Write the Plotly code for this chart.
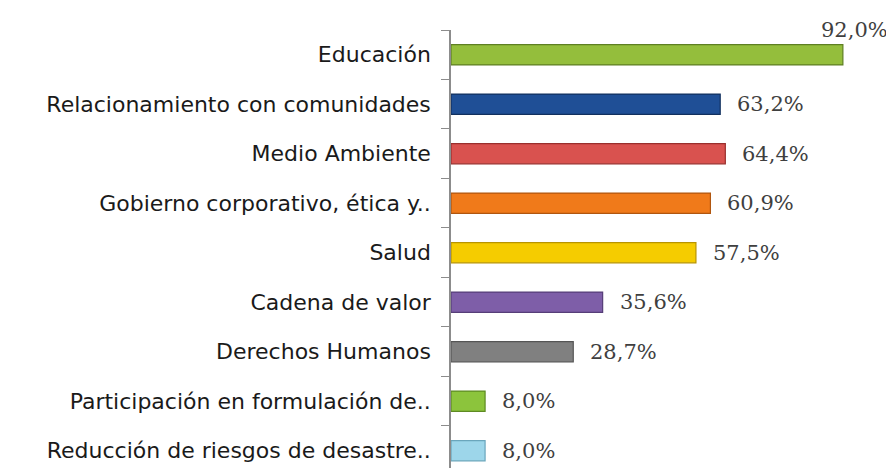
import plotly.graph_objects as go

categories = [
    "Educación",
    "Relacionamiento con comunidades",
    "Medio Ambiente",
    "Gobierno corporativo, ética y..",
    "Salud",
    "Cadena de valor",
    "Derechos Humanos",
    "Participación en formulación de..",
    "Reducción de riesgos de desastre..",
]
values = [92.0, 63.2, 64.4, 60.9, 57.5, 35.6, 28.7, 8.0, 8.0]
labels = ["92,0%", "63,2%", "64,4%", "60,9%", "57,5%", "35,6%", "28,7%", "8,0%", "8,0%"]
colors = ["#94BE3C", "#1F4F96", "#D9524F", "#F07A1A", "#F5CC00",
          "#7E5EA8", "#808080", "#8CC43C", "#9DD6EA"]
edges = ["#5E7F22", "#12305E", "#9A2F2D", "#B0560F", "#B89400",
         "#563E78", "#555555", "#5E8A22", "#6AA6BC"]

fig = go.Figure()
fig.add_trace(go.Bar(
    y=categories, x=values, orientation="h",
    marker=dict(color=colors, line=dict(color=edges, width=1.2)),
    width=0.41, hoverinfo="skip",
))

for i, (c, v, t) in enumerate(zip(categories, values, labels)):
    if i == 0:
        fig.add_annotation(x=v, y=c, text=t, showarrow=False, xanchor="left",
                           xshift=-24, yshift=25,
                           font=dict(family="DejaVu Serif", size=21, color="#3F3F3F"))
    else:
        fig.add_annotation(x=v, y=c, text=t, showarrow=False, xanchor="left",
                           xshift=15,
                           font=dict(family="DejaVu Serif", size=21, color="#3F3F3F"))

fig.update_layout(
    width=894, height=468,
    margin=dict(l=443, r=8, t=22, b=8),
    paper_bgcolor="white", plot_bgcolor="white",
    showlegend=False,
    xaxis=dict(range=[0, 104], visible=False, fixedrange=True),
    yaxis=dict(
        type="category", categoryorder="array", categoryarray=categories,
        range=[8.35, -0.5],
        showline=True, linecolor="#8C8C8C", linewidth=1.5,
        ticks="outside", tickson="boundaries", ticklen=8, tickcolor="#8C8C8C",
        ticklabelstandoff=14,
        tickfont=dict(family="DejaVu Sans", size=22, color="#1A1A1A"),
        showgrid=False, zeroline=False,
    ),
)

fig.write_html("out.html")
